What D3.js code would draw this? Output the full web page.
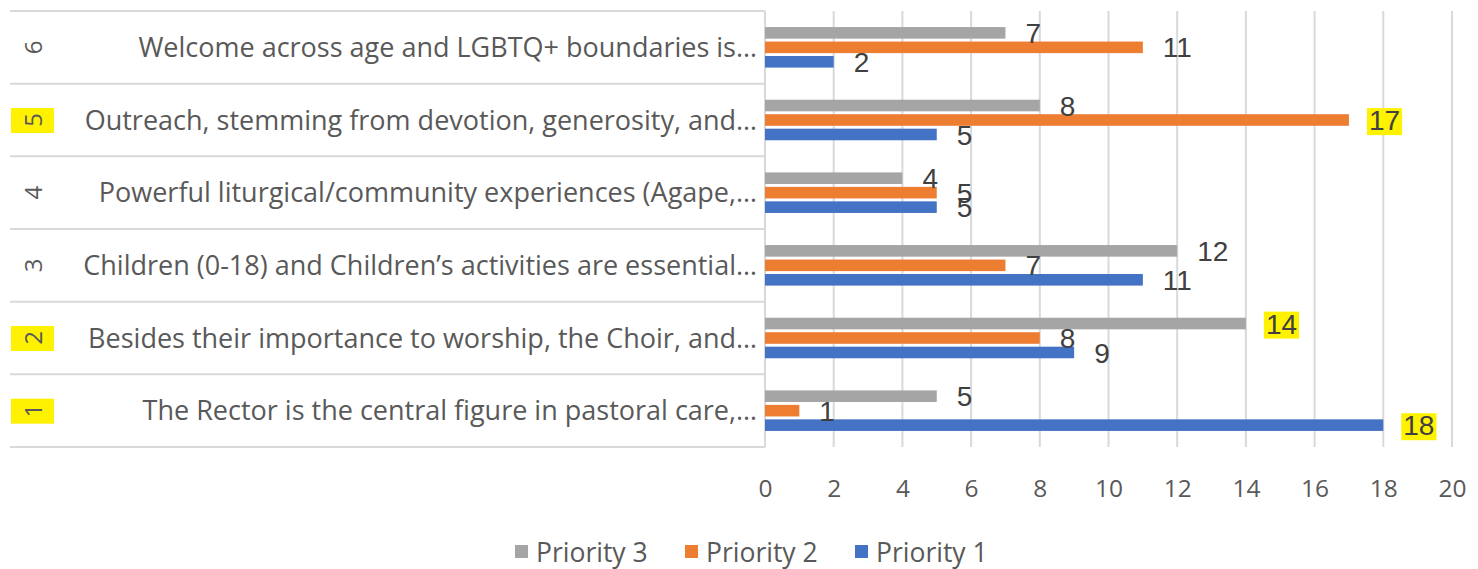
<!DOCTYPE html>
<html><head><meta charset="utf-8">
<script src="https://cdn.jsdelivr.net/npm/d3@7"></script>
<style>body{margin:0;background:#fff}svg{display:block}</style>
</head><body>
<svg id="c" width="1478" height="569"></svg>
<script>
const categoryIds = ["1","2","3","4","5","6"];
const categoryTexts = [
  "The Rector is the central figure in pastoral care,…",
  "Besides their importance to worship, the Choir, and…",
  "Children (0-18) and Children’s activities are essential…",
  "Powerful liturgical/community experiences (Agape,…",
  "Outreach, stemming from devotion, generosity, and…",
  "Welcome across age and LGBTQ+ boundaries is…"
];
const seriesNames = ["Priority 3","Priority 2","Priority 1"];
const priority1 = [18, 9, 11, 5, 5, 2];
const priority2 = [1, 8, 7, 5, 17, 11];
const priority3 = [5, 14, 12, 4, 8, 7];
const xTicks = [0,2,4,6,8,10,12,14,16,18,20];
const highlightedCategoryIds = ["5","2","1"];
const highlightedLabels = [["5","Priority 2"],["2","Priority 3"],["1","Priority 1"]];
const colors = {"Priority 3":"#a5a5a5","Priority 2":"#ed7d31","Priority 1":"#4472c4"};
const seriesValues = {"Priority 1":priority1,"Priority 2":priority2,"Priority 3":priority3};

(function(){
const svg = d3.select("#c");
const pLeft = 765, pRight = 1452, pTop = 11, pBottom = 447, tableLeft = 10;
const x = d3.scaleLinear().domain([0,20]).range([pLeft,pRight]);
const y = d3.scaleBand().domain(categoryIds.slice().reverse()).range([pTop,pBottom]).padding(0);
const ys = d3.scaleBand().domain(seriesNames).range([0,y.bandwidth()]).paddingInner(0.2).paddingOuter(1.11);
const grid = "#d9d9d9", textCol = "#595959";
const font = "'Open Sans', sans-serif";
const numFont = "'Liberation Sans Narrow', 'Liberation Sans', sans-serif";
const yellow = "#fff200";

svg.append("g").selectAll("line").data(xTicks.slice(1)).join("line")
  .attr("x1",d=>x(d)).attr("x2",d=>x(d)).attr("y1",pTop).attr("y2",pBottom)
  .attr("stroke",grid).attr("stroke-width",2);
const bounds = categoryIds.map(c=>y(c)).concat([pBottom]);
svg.append("g").selectAll("line").data(bounds).join("line")
  .attr("x1",tableLeft).attr("x2",pLeft).attr("y1",d=>d).attr("y2",d=>d)
  .attr("stroke",grid).attr("stroke-width",2);
svg.append("line").attr("x1",pLeft).attr("x2",pLeft).attr("y1",pTop).attr("y2",pBottom)
  .attr("stroke",grid).attr("stroke-width",2);

const xAxis = d3.axisBottom(x).tickValues(xTicks).tickSize(0).tickPadding(0);
const ax = svg.append("g").attr("transform",`translate(0,${pBottom+31})`).call(xAxis);
ax.select(".domain").remove();
ax.selectAll("text").attr("font-family",font).attr("font-size",24.5).attr("fill",textCol).attr("dy","0.36em").attr("y",10);

const catG = svg.append("g");
categoryIds.forEach((c,i)=>{
  const cy = y(c)+y.bandwidth()/2;
  if (highlightedCategoryIds.includes(c)) {
    catG.append("rect").attr("x",11).attr("y",cy-12).attr("width",43).attr("height",25).attr("fill",yellow);
  }
  catG.append("text").attr("transform",`translate(33,${cy}) rotate(-90)`)
    .attr("text-anchor","middle").attr("dy","0.36em")
    .attr("font-family",font).attr("font-size",24).attr("fill",textCol).text(c);
  catG.append("text").attr("x",757).attr("y",cy).attr("dy","0.36em").attr("text-anchor","end")
    .attr("font-family",font).attr("font-size",27).attr("fill",textCol).text(categoryTexts[i]);
});

const barG = svg.append("g");
const labG = svg.append("g");
categoryIds.forEach((c,i)=>{
  seriesNames.forEach(s=>{
    const v = seriesValues[s][i];
    const by = y(c)+ys(s);
    barG.append("rect").attr("x",x(0)).attr("y",by).attr("width",x(v)-x(0)).attr("height",ys.bandwidth())
      .attr("fill",colors[s]);
    const t = labG.append("text").attr("x",x(v)+20).attr("y",by+ys.bandwidth()/2).attr("dy","0.36em")
      .attr("font-family",numFont).attr("font-size",28).attr("fill","#404040").text(v);
    if (highlightedLabels.some(h=>h[0]===c && h[1]===s)) {
      const bb = t.node().getBBox();
      labG.insert("rect","text").attr("x",bb.x-2).attr("y",bb.y+3).attr("width",bb.width+4).attr("height",bb.height-4).attr("fill",yellow);
    }
  });
});

const legend = svg.append("g").attr("transform","translate(0,552)");
const legX = [515,685,855];
seriesNames.forEach((s,i)=>{
  legend.append("rect").attr("x",legX[i]).attr("y",-7).attr("width",13).attr("height",13).attr("fill",colors[s]);
  legend.append("text").attr("x",legX[i]+21).attr("y",0).attr("dy","0.36em")
    .attr("font-family",font).attr("font-size",26.5).attr("fill",textCol).text(s);
});
})();
</script>
</body></html>
